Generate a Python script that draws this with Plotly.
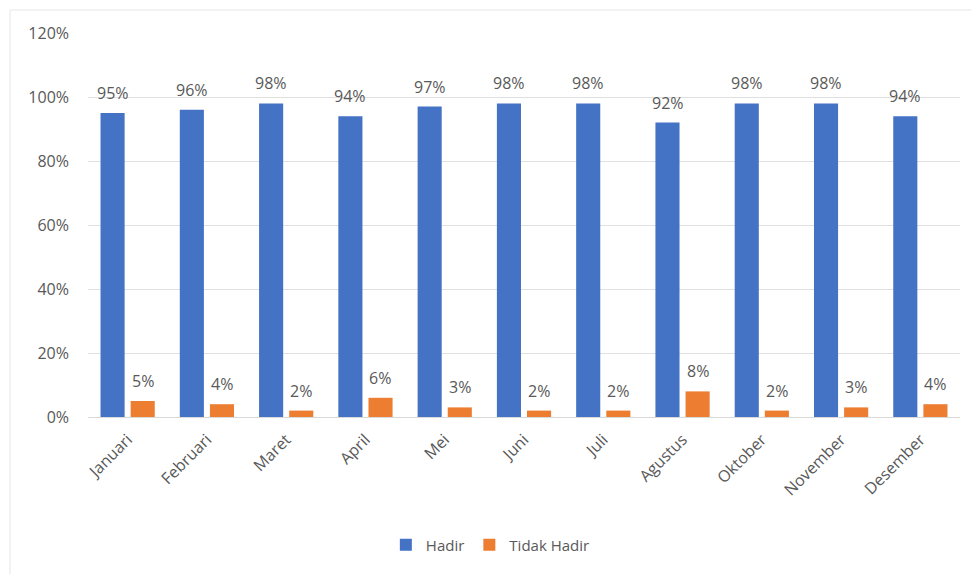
import plotly.graph_objects as go

months = ["Januari", "Februari", "Maret", "April", "Mei", "Juni", "Juli",
          "Agustus", "Oktober", "November", "Desember"]
hadir = [0.95, 0.96, 0.98, 0.94, 0.97, 0.98, 0.98, 0.92, 0.98, 0.98, 0.94]
tidak_hadir = [0.05, 0.04, 0.02, 0.06, 0.03, 0.02, 0.02, 0.08, 0.02, 0.03, 0.04]
yticks = [0, 0.2, 0.4, 0.6, 0.8, 1.0, 1.2]
ytick_labels = ["0%", "20%", "40%", "60%", "80%", "100%", "120%"]

font_family = "Open Sans, Liberation Sans, sans-serif"
gray = "#595959"

fig = go.Figure()
fig.add_trace(go.Bar(
    x=months, y=hadir, name="Hadir",
    marker=dict(color="#4472C4", line=dict(width=0)),
))
fig.add_trace(go.Bar(
    x=months, y=tidak_hadir, name="Tidak Hadir",
    marker=dict(color="#ED7D31", line=dict(width=0)),
))

annotations = []
for series, shift in ((hadir, -15), (tidak_hadir, 15)):
    for m, v in zip(months, series):
        annotations.append(dict(
            x=m, y=v, xref="x", yref="y", xshift=shift, yshift=7,
            yanchor="bottom", showarrow=False, text=f"{round(v*100)}%",
            font=dict(size=16, color=gray, family=font_family),
        ))

fig.update_layout(
    width=971, height=575,
    margin=dict(l=88, r=11, t=33, b=158, autoexpand=False),
    paper_bgcolor="white", plot_bgcolor="white",
    barmode="group", bargap=0.24, bargroupgap=0.2,
    font=dict(family=font_family, color=gray, size=16),
    showlegend=True,
    legend=dict(orientation="h", x=0.505, xref="container", xanchor="center",
                y=0.052, yref="container", yanchor="middle",
                font=dict(size=15, color=gray), itemsizing="constant",
                itemwidth=30, traceorder="normal"),
    xaxis=dict(tickangle=-45, showgrid=False, showline=True, automargin=False,
               linecolor="#D9D9D9", linewidth=1, ticks="", ticklabelstandoff=6,
               tickfont=dict(size=16, color=gray)),
    yaxis=dict(range=[0, 1.2], tickvals=yticks, ticktext=ytick_labels,
               showgrid=True, gridcolor="#E0E0E0", gridwidth=1, automargin=False,
               zeroline=False, showline=False, ticks="", ticklabelstandoff=18,
               tickfont=dict(size=16, color=gray)),
    annotations=annotations,
    shapes=[
        dict(type="line", xref="paper", yref="paper",
             x0=-0.0894, x1=1.0126, y0=1.0599, y1=1.0599,
             line=dict(color="#E6E6E6", width=1)),
        dict(type="line", xref="paper", yref="paper",
             x0=-0.0894, x1=-0.0894, y0=1.0599, y1=-0.41,
             line=dict(color="#E6E6E6", width=1)),
    ],
)

fig.write_html("out.html")
